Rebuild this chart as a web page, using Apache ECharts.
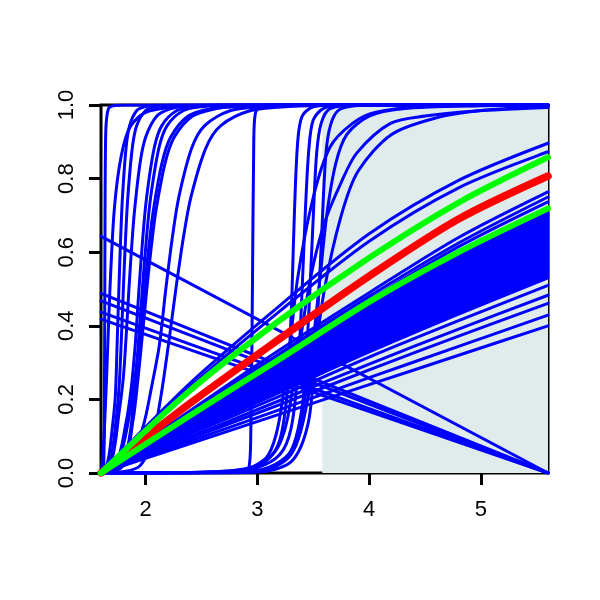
<!DOCTYPE html>
<html><head><meta charset="utf-8">
<script src="https://cdn.jsdelivr.net/npm/echarts@6/dist/echarts.min.js"></script>
<style>html,body{margin:0;padding:0;background:#fff}#c{width:600px;height:600px}</style>
</head><body><div id="c"></div>
<script>
// ---- data ----
const xTicks = [2, 3, 4, 5];
const yTicks = [0, 0.2, 0.4, 0.6, 0.8, 1.0];
const xRange = [1.6, 5.6];
const shadeRange = [3.58, 5.6];

// x positions shared by the near-linear curves
const bundleX = [1.6, 2.4, 3.2, 4.0, 4.8, 5.6];
const redCurve = [0, 0.19, 0.365, 0.535, 0.69, 0.807];
const greenCurves = [
  [0, 0.225, 0.415, 0.585, 0.735, 0.858],
  [0, 0.157, 0.31, 0.465, 0.60, 0.719]
];
const bundleCurves = [
  [0, 0.245, 0.455, 0.65, 0.795, 0.896],
  [0, 0.235, 0.44, 0.63, 0.775, 0.873],
  [0, 0.17, 0.335, 0.49, 0.64, 0.764],
  [0, 0.165, 0.325, 0.48, 0.625, 0.75],
  [0, 0.162, 0.32, 0.47, 0.615, 0.737],
  [0, 0.154, 0.304, 0.457, 0.589, 0.706],
  [0, 0.153, 0.303, 0.455, 0.586, 0.703],
  [0, 0.153, 0.302, 0.453, 0.584, 0.70],
  [0, 0.152, 0.300, 0.450, 0.580, 0.695],
  [0, 0.150, 0.297, 0.446, 0.575, 0.69],
  [0, 0.149, 0.295, 0.443, 0.571, 0.685],
  [0, 0.148, 0.292, 0.438, 0.566, 0.68],
  [0, 0.146, 0.290, 0.435, 0.562, 0.675],
  [0, 0.145, 0.287, 0.431, 0.557, 0.67],
  [0, 0.144, 0.285, 0.428, 0.553, 0.665],
  [0, 0.143, 0.283, 0.425, 0.549, 0.66],
  [0, 0.141, 0.280, 0.420, 0.543, 0.655],
  [0, 0.140, 0.277, 0.415, 0.538, 0.65],
  [0, 0.139, 0.275, 0.412, 0.534, 0.645],
  [0, 0.138, 0.273, 0.409, 0.530, 0.64],
  [0, 0.137, 0.270, 0.406, 0.526, 0.635],
  [0, 0.135, 0.266, 0.400, 0.520, 0.63],
  [0, 0.133, 0.264, 0.396, 0.515, 0.625],
  [0, 0.132, 0.262, 0.392, 0.511, 0.62],
  [0, 0.131, 0.260, 0.389, 0.507, 0.615],
  [0, 0.130, 0.257, 0.386, 0.503, 0.61],
  [0, 0.128, 0.254, 0.381, 0.497, 0.605],
  [0, 0.127, 0.251, 0.377, 0.493, 0.60],
  [0, 0.126, 0.250, 0.375, 0.489, 0.595],
  [0, 0.125, 0.247, 0.371, 0.484, 0.59],
  [0, 0.124, 0.245, 0.368, 0.480, 0.585],
  [0, 0.122, 0.242, 0.364, 0.476, 0.58],
  [0, 0.121, 0.240, 0.360, 0.471, 0.575],
  [0, 0.120, 0.238, 0.357, 0.467, 0.57],
  [0, 0.119, 0.236, 0.354, 0.463, 0.565],
  [0, 0.118, 0.234, 0.351, 0.459, 0.56],
  [0, 0.117, 0.230, 0.346, 0.453, 0.555],
  [0, 0.116, 0.228, 0.343, 0.449, 0.55],
  [0, 0.114, 0.226, 0.340, 0.445, 0.545],
  [0, 0.113, 0.224, 0.335, 0.441, 0.54],
  [0, 0.112, 0.221, 0.332, 0.436, 0.535],
  [0, 0.111, 0.219, 0.329, 0.432, 0.53],
  [0, 0.106, 0.209, 0.315, 0.414, 0.51],
  [0, 0.099, 0.197, 0.296, 0.391, 0.483],
  [0, 0.094, 0.186, 0.280, 0.372, 0.461],
  [0, 0.087, 0.172, 0.259, 0.344, 0.429],
  [0, 0.080, 0.160, 0.240, 0.320, 0.40]
];

// straight falling lines: [x, y] end points
const fallingLines = [
  [[1.6, 0.643], [5.6, 0]],
  [[1.6, 0.488], [5.6, 0]],
  [[1.6, 0.468], [5.6, 0]],
  [[1.6, 0.437], [5.6, 0]],
  [[1.6, 0.418], [5.6, 0]]
];

// S-shaped curves, [x, y] points
const sigmoidCurves = [
  [[1.6,0],[1.625,0.03],[1.632,0.3],[1.636,0.7],[1.642,0.92],[1.655,0.975],[1.68,0.995],[1.8,1],[5.6,1]],
  [[1.6,0],[1.62,0.06],[1.65,0.26],[1.68,0.5],[1.72,0.72],[1.78,0.86],[1.86,0.94],[2.0,0.98],[2.3,0.996],[2.8,1],[5.6,1]],
  [[1.6,0],[1.66,0.03],[1.70,0.12],[1.728,0.208],[1.744,0.347],[1.76,0.5],[1.776,0.639],[1.792,0.749],[1.824,0.883],[1.856,0.944],[1.92,0.985],[2.0,0.996],[2.08,0.999],[2.4,1],[5.6,1]],
  [[1.6,0],[1.68,0.03],[1.73,0.13],[1.76,0.225],[1.78,0.347],[1.80,0.5],[1.82,0.639],[1.84,0.749],[1.88,0.883],[1.92,0.944],[2.0,0.985],[2.1,0.996],[2.2,0.999],[2.6,1],[5.6,1]],
  [[1.6,0],[1.70,0.04],[1.76,0.16],[1.80,0.26],[1.825,0.371],[1.85,0.5],[1.875,0.617],[1.90,0.713],[1.95,0.843],[2.0,0.913],[2.1,0.97],[2.225,0.99],[2.35,0.996],[2.8,1],[5.6,1]],
  [[1.6,0],[1.74,0.03],[1.82,0.13],[1.87,0.23],[1.906,0.347],[1.94,0.5],[1.974,0.639],[2.008,0.749],[2.076,0.883],[2.144,0.944],[2.28,0.985],[2.45,0.996],[2.62,0.999],[3.0,1],[5.6,1]],
  [[1.6,0],[1.785,0.016],[1.859,0.105],[1.896,0.208],[1.933,0.347],[1.97,0.5],[2.007,0.639],[2.044,0.749],[2.118,0.883],[2.192,0.944],[2.34,0.985],[2.525,0.996],[2.71,0.999],[3.1,1],[5.6,1]],
  [[1.6,0],[1.76,0.04],[1.85,0.15],[1.905,0.26],[1.951,0.371],[1.99,0.5],[2.029,0.617],[2.068,0.713],[2.146,0.843],[2.224,0.913],[2.38,0.97],[2.575,0.99],[2.77,0.996],[3.3,1],[5.6,1]],
  [[1.6,0],[1.805,0.03],[1.887,0.144],[1.928,0.247],[1.969,0.371],[2.01,0.5],[2.051,0.617],[2.092,0.713],[2.174,0.843],[2.256,0.913],[2.42,0.97],[2.625,0.99],[2.83,0.996],[3.4,1],[5.6,1]],
  [[1.6,0],[1.85,0.03],[1.98,0.13],[2.05,0.23],[2.122,0.347],[2.18,0.5],[2.238,0.639],[2.296,0.749],[2.412,0.883],[2.528,0.944],[2.76,0.985],[3.05,0.996],[3.34,0.999],[3.8,1],[5.6,1]],
  [[1.6,0],[1.935,0.016],[2.069,0.105],[2.136,0.208],[2.203,0.347],[2.27,0.5],[2.337,0.639],[2.404,0.749],[2.538,0.883],[2.672,0.944],[2.94,0.985],[3.275,0.996],[3.61,0.999],[4.0,1],[5.6,1]],
  [[1.6,0],[2.8,0],[2.92,0.01],[2.94,0.1],[2.955,0.5],[2.967,0.9],[2.98,0.975],[3.02,0.995],[3.2,1],[5.6,1]],
  [[1.6,0],[2.5,0.002],[2.9,0.012],[3.1,0.04],[3.2,0.09],[3.26,0.2],[3.29,0.35],[3.31,0.5],[3.33,0.7],[3.36,0.9],[3.4,0.97],[3.5,0.995],[3.7,1],[5.6,1]],
  [[1.6,0],[2.7,0.003],[3.0,0.015],[3.2,0.05],[3.3,0.12],[3.36,0.27],[3.4,0.5],[3.43,0.72],[3.46,0.88],[3.5,0.96],[3.6,0.992],[3.8,1],[5.6,1]],
  [[1.6,0],[2.8,0.002],[3.1,0.015],[3.3,0.06],[3.4,0.18],[3.44,0.33],[3.47,0.5],[3.5,0.7],[3.53,0.87],[3.57,0.95],[3.65,0.99],[3.9,1],[5.6,1]],
  [[1.6,0],[3.0,0.003],[3.3,0.03],[3.45,0.13],[3.51,0.3],[3.56,0.55],[3.59,0.75],[3.62,0.89],[3.67,0.96],[3.75,0.99],[4.0,1],[5.6,1]],
  [[1.6,0],[2.8,0.005],[3.1,0.05],[3.25,0.25],[3.36,0.53],[3.5,0.75],[3.65,0.886],[3.85,0.95],[4.05,0.98],[4.5,0.995],[5.6,1]],
  [[1.6,0],[2.9,0.005],[3.2,0.08],[3.35,0.3],[3.475,0.53],[3.6,0.68],[3.75,0.79],[3.89,0.87],[4.19,0.95],[4.5,0.97],[4.93,0.983],[5.6,0.993]],
  [[1.6,0],[3.0,0.005],[3.3,0.06],[3.45,0.25],[3.55,0.5],[3.62,0.7],[3.7,0.84],[3.8,0.92],[4.0,0.97],[4.3,0.99],[5.0,0.998],[5.6,1]],
  [[1.6,0],[3.0,0.004],[3.3,0.05],[3.45,0.2],[3.6,0.5],[3.75,0.7],[3.9,0.82],[4.2,0.92],[4.6,0.965],[5.0,0.985],[5.6,0.995]]
];

// ---- chart ----
const BLUE = '#0000ff', RED = '#ff0000', GREEN = '#00ff00';
const pairs = ys => ys.map((y, i) => [bundleX[i], y]);
const lineSeries = (data, color, width, z, smooth) => ({
  type: 'line', data, showSymbol: false, symbol: 'none', smooth: smooth,
  lineStyle: { color, width, cap: 'round', join: 'round' }, z, silent: true, clip: true,
  animation: false
});

const series = [];
series.push({
  type: 'line', data: [[shadeRange[0], 0]], symbol: 'none', lineStyle: { width: 0 }, z: 1, silent: true,
  markArea: { silent: true, itemStyle: { color: '#e0ecec' },
    data: [[{ xAxis: shadeRange[0], yAxis: yTicks[0] }, { xAxis: shadeRange[1], yAxis: yTicks[yTicks.length - 1] }]] }
});
sigmoidCurves.forEach(c => series.push(lineSeries(c, BLUE, 3, 2, 0.3)));
bundleCurves.forEach(c => series.push(lineSeries(pairs(c), BLUE, 3, 2, 0.3)));
fallingLines.forEach(c => series.push(lineSeries(c, BLUE, 3, 2, false)));
series.push(lineSeries(pairs(redCurve), RED, 7.5, 3, 0.3));
greenCurves.forEach(c => series.push(lineSeries(pairs(c), GREEN, 6, 4, 0.3)));

const labelFont = { color: '#000', fontSize: 22, fontFamily: 'Liberation Sans, Arial, sans-serif' };
const chart = echarts.init(document.getElementById('c'), null, { renderer: 'canvas' });
chart.setOption({
  animation: false,
  backgroundColor: '#fff',
  grid: { left: 101, right: 52, top: 105, bottom: 127, show: true, borderColor: '#000', borderWidth: 3, backgroundColor: 'transparent' },
  xAxis: {
    type: 'value', min: xRange[0], max: xRange[1],
    axisLine: { show: false, onZero: false },
    axisTick: { show: true, length: 12, lineStyle: { color: '#000', width: 3 }, customValues: xTicks },
    axisLabel: Object.assign({ customValues: xTicks, margin: 26, formatter: v => String(v) }, labelFont),
    splitLine: { show: false }
  },
  yAxis: {
    type: 'value', min: yTicks[0], max: yTicks[yTicks.length - 1],
    axisLine: { show: false, onZero: false },
    axisTick: { show: true, length: 12, lineStyle: { color: '#000', width: 3 }, customValues: yTicks },
    axisLabel: Object.assign({ customValues: yTicks, rotate: 90, margin: 23, formatter: v => Number(v).toFixed(1) }, labelFont),
    splitLine: { show: false }
  },
  series
});
</script></body></html>
